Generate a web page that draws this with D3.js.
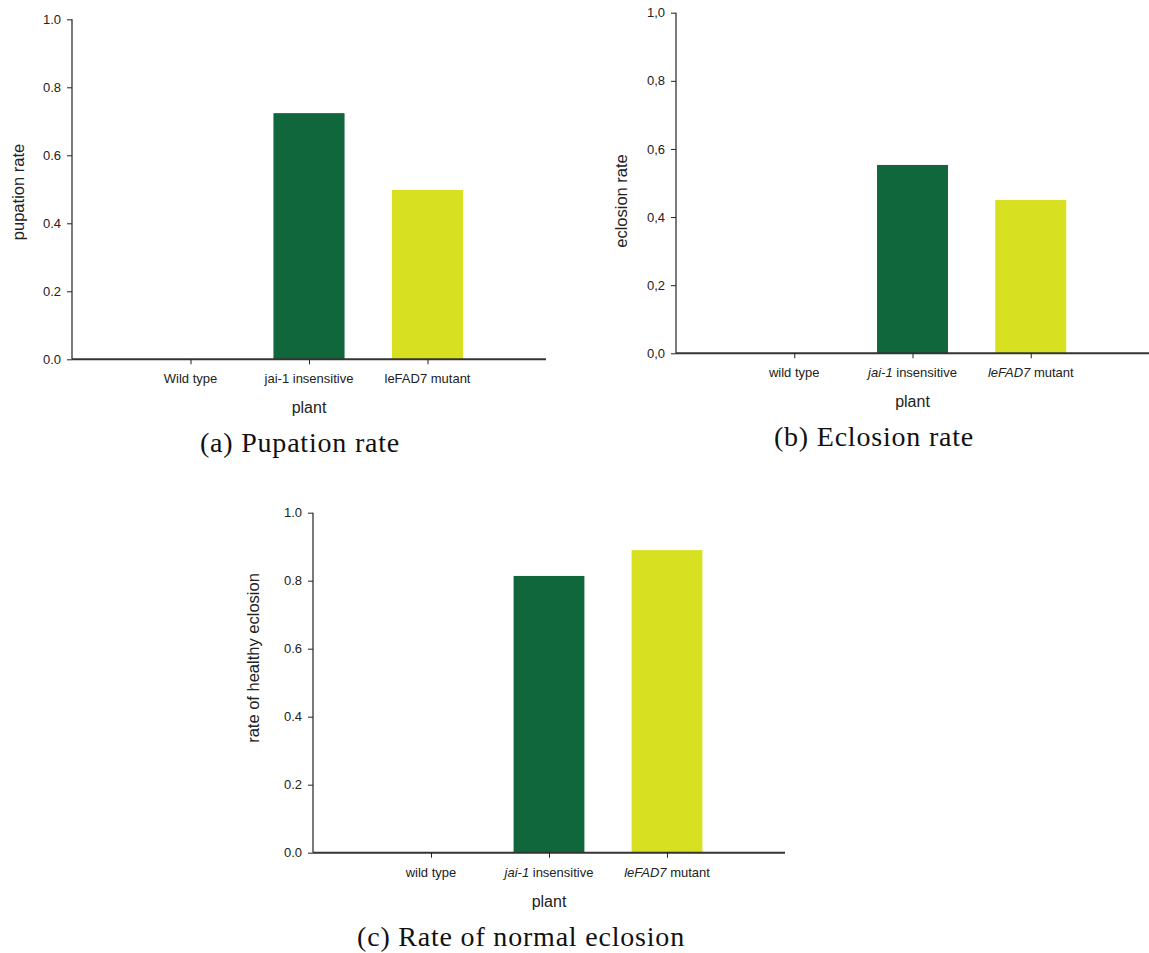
<!DOCTYPE html>
<html>
<head>
<meta charset="utf-8">
<script src="https://cdn.jsdelivr.net/npm/d3@7"></script>
<style>
  body { margin: 0; background: #fff; }
  svg text { font-family: "Liberation Sans", Arial, sans-serif; fill: #222; }
  .caption { font-family: "Liberation Serif", "Times New Roman", serif; fill: #111; }
</style>
</head>
<body>
<div id="chart"></div>
<script>
// Data
// ==============================
var plants = ["wild type", "jai-1 insensitive", "leFAD7 mutant"];
var pupationRate = [0, 0.724, 0.498];
var eclosionRate = [0, 0.553, 0.45];
var healthyEclosionRate = [0, 0.814, 0.89];
var yTicks = [0, 0.2, 0.4, 0.6, 0.8, 1.0];
var barColors = ["#ffffff", "#10673b", "#d7e021"];

// tick labels, with italic parts marked
var labelsPlain = [[{t: "Wild type"}], [{t: "jai-1 insensitive"}], [{t: "leFAD7 mutant"}]];
var labelsItalic = [[{t: "wild type"}],
  [{t: "jai-1", i: true}, {t: " insensitive"}],
  [{t: "leFAD7", i: true}, {t: " mutant"}]];

// Plot area
// ==============================
var svg = d3.select("#chart").append("svg")
  .attr("width", 1149)
  .attr("height", 953);

var panels = [
  {values: pupationRate, labels: labelsPlain, yLabel: "pupation rate", fmt: d3.format(".1f"),
   caption: "(a) Pupation rate", left: 72, top: 19.3, bottom: 359.3, width: 474,
   yLabelX: 18, yLabelY: 192, capX: 300},
  {values: eclosionRate, labels: labelsItalic, yLabel: "eclosion rate",
   fmt: function(d) { return d3.format(".1f")(d).replace(".", ","); },
   caption: "(b) Eclosion rate", left: 676, top: 12.7, bottom: 353.3, width: 473,
   yLabelX: 621, yLabelY: 201, capX: 874},
  {values: healthyEclosionRate, labels: labelsItalic, yLabel: "rate of healthy eclosion", fmt: d3.format(".1f"),
   caption: "(c) Rate of normal eclosion", left: 313, top: 512.7, bottom: 852.7, width: 472,
   yLabelX: 253, yLabelY: 658, capX: 521}
];

function drawPanel(p) {
  var g = svg.append("g");

  var x = d3.scalePoint()
    .domain(plants)
    .range([p.left, p.left + p.width])
    .padding(1);
  var y = d3.scaleLinear()
    .domain([0, 1])
    .range([p.bottom, p.top]);
  var barW = x.step() * 0.6;

  // bars
  g.selectAll("rect")
    .data(p.values)
    .enter()
    .append("rect")
    .attr("x", (d, i) => x(plants[i]) - barW / 2)
    .attr("y", d => y(d))
    .attr("width", barW)
    .attr("height", d => y(0) - y(d))
    .attr("fill", (d, i) => barColors[i]);

  // y axis
  var yAxis = g.append("g")
    .attr("transform", `translate(${p.left},0)`)
    .call(d3.axisLeft(y).tickValues(yTicks).tickFormat(p.fmt).tickSize(5).tickPadding(6));
  yAxis.select(".domain").attr("stroke", "#222").attr("stroke-width", 1.2).attr("d", `M0,${p.top}V${p.bottom}`);
  yAxis.selectAll(".tick line").attr("stroke", "#222");
  yAxis.selectAll(".tick text").style("font-size", "13px").attr("fill", "#222");

  // x axis
  var xAxis = g.append("g")
    .attr("transform", `translate(0,${p.bottom})`)
    .call(d3.axisBottom(x).tickSize(5).tickFormat(""));
  xAxis.select(".domain").attr("stroke", "#333").attr("stroke-width", 2)
    .attr("d", `M${p.left},0H${p.left + p.width}`);
  xAxis.selectAll(".tick line").attr("stroke", "#222");

  // tick labels with italic parts
  plants.forEach(function(name, i) {
    var t = g.append("text")
      .attr("x", x(name))
      .attr("y", p.bottom + 24)
      .attr("text-anchor", "middle")
      .style("font-size", "13px");
    p.labels[i].forEach(function(s) {
      t.append("tspan").style("font-style", s.i ? "italic" : "normal").text(s.t);
    });
  });

  // axis titles
  g.append("text")
    .attr("x", p.left + p.width / 2)
    .attr("y", p.bottom + 54)
    .attr("text-anchor", "middle")
    .style("font-size", "16px")
    .text("plant");

  g.append("text")
    .attr("transform", `translate(${p.yLabelX},${p.yLabelY}) rotate(-90)`)
    .attr("dy", "0.35em")
    .attr("text-anchor", "middle")
    .style("font-size", "16.5px")
    .text(p.yLabel);

  // caption
  g.append("text")
    .attr("class", "caption")
    .attr("x", p.capX)
    .attr("y", p.bottom + 93)
    .attr("text-anchor", "middle")
    .style("font-size", "28px")
    .style("letter-spacing", "0.8px")
    .text(p.caption);
}

panels.forEach(drawPanel);
</script>
</body>
</html>
